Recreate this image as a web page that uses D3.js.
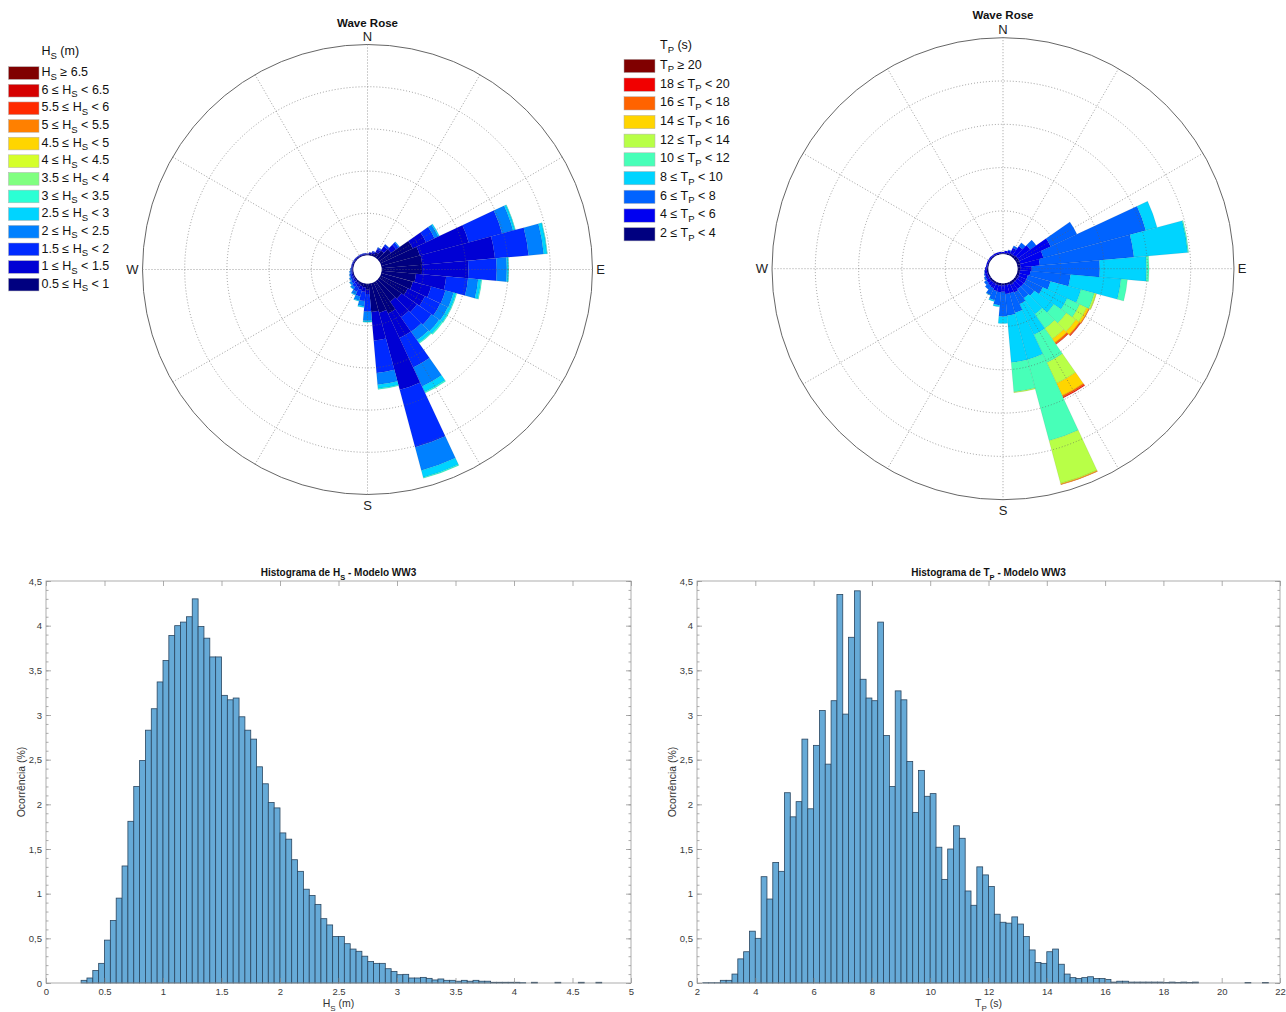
<!DOCTYPE html>
<html>
<head>
<meta charset="utf-8">
<script src="https://cdn.jsdelivr.net/npm/d3@7"></script>
<style>
body {margin: 0; background: #fff;}
svg {font-family: "Liberation Sans", Arial, sans-serif;}
</style>
</head>
<body>
<svg id="chart" width="1286" height="1012"></svg>
<script>
// ---- data ----
var directions = d3.range(0, 360, 10);          // sector centres (deg from N)
var hsBreaks = [0.5, 1, 1.5, 2, 2.5, 3, 3.5, 4, 4.5, 5, 5.5, 6, 6.5];
var tpBreaks = [2, 4, 6, 8, 10, 12, 14, 16, 18, 20];

// frequency per class (in ring units), one row per direction, lowest class first
var hsRoseFreq = [
  [0.03, 0.02], [0.04, 0.03, 0.01], [0.06, 0.04, 0.02], [0.12, 0.08, 0.04, 0.01],
  [0.22, 0.12, 0.05, 0.01], [0.35, 0.15, 0.07, 0.03],
  [0.85, 0.35, 0.22, 0.10, 0.03],
  [0.95, 1.20, 0.82, 0.27, 0.05, 0.01],
  [0.97, 1.73, 0.80, 0.36, 0.08, 0.01],
  [0.96, 1.10, 0.67, 0.24, 0.04, 0.01],
  [0.82, 0.72, 0.52, 0.24, 0.07, 0.02],
  [0.78, 0.45, 0.35, 0.20, 0.06, 0.02],
  [0.72, 0.45, 0.40, 0.20, 0.07, 0.02],
  [0.65, 0.45, 0.42, 0.22, 0.08, 0.03],
  [0.60, 0.45, 0.42, 0.24, 0.08, 0.02],
  [0.82, 0.64, 0.77, 0.50, 0.14, 0.03],
  [0.73, 1.89, 1.41, 0.57, 0.17, 0.02],
  [0.68, 0.68, 0.77, 0.28, 0.09, 0.02],
  [0.15, 0.10, 0.42, 0.21, 0.03, 0.01],
  [0.10, 0.10, 0.22, 0.12, 0.03],
  [0.08, 0.09, 0.16, 0.10, 0.02],
  [0.06, 0.07, 0.12, 0.08, 0.02],
  [0.05, 0.05, 0.08, 0.06, 0.01],
  [0.04, 0.04, 0.06, 0.05, 0.01],
  [0.03, 0.03, 0.05, 0.04], [0.03, 0.03, 0.04, 0.02], [0.03, 0.02, 0.03, 0.02],
  [0.03, 0.02, 0.02, 0.01],
  [0.03, 0.02, 0.01], [0.03, 0.02, 0.01], [0.03, 0.02, 0.01], [0.03, 0.02, 0.01],
  [0.03, 0.02, 0.01], [0.03, 0.02, 0.01], [0.03, 0.02, 0.01], [0.03, 0.02, 0.01]
];
var tpRoseFreq = [
  [0.02, 0.03], [0.03, 0.05], [0.04, 0.06, 0.02], [0.05, 0.15, 0.05],
  [0.06, 0.24, 0.10], [0.08, 0.35, 0.17],
  [0.08, 0.80, 0.67],
  [0.08, 0.55, 2.45, 0.27],
  [0.07, 0.45, 2.18, 1.25, 0.02],
  [0.06, 0.27, 1.57, 1.08, 0.06],
  [0.06, 0.24, 0.93, 1.17, 0.15],
  [0.06, 0.20, 0.54, 0.73, 0.32, 0.04, 0.01],
  [0.06, 0.20, 0.42, 0.62, 0.32, 0.18, 0.05, 0.02],
  [0.06, 0.19, 0.30, 0.55, 0.35, 0.27, 0.10, 0.03, 0.01],
  [0.06, 0.18, 0.26, 0.45, 0.40, 0.30, 0.10, 0.04, 0.01],
  [0.07, 0.20, 0.30, 0.78, 0.71, 0.53, 0.31, 0.04, 0.02],
  [0.05, 0.20, 0.47, 1.12, 1.94, 1.02, 0.02, 0.01],
  [0.05, 0.20, 0.50, 1.09, 0.68, 0.02],
  [0.05, 0.15, 0.57, 0.16],
  [0.06, 0.15, 0.30, 0.04],
  [0.06, 0.14, 0.22, 0.03],
  [0.05, 0.12, 0.17, 0.01],
  [0.05, 0.10, 0.10], [0.05, 0.08, 0.07], [0.04, 0.07, 0.04], [0.04, 0.06, 0.02],
  [0.04, 0.05, 0.01], [0.04, 0.04],
  [0.03, 0.03], [0.03, 0.03], [0.03, 0.03], [0.03, 0.03],
  [0.03, 0.03], [0.03, 0.03], [0.03, 0.03], [0.03, 0.03]
];

// histogram of Hs: bins of 0.05 m starting at 0.30 m (occurrence %)
var hsBinStart = 0.3, hsBinWidth = 0.05;
var hsHist = [
  0.03, 0.056, 0.14, 0.22, 0.48, 0.70, 0.95, 1.31, 1.81, 2.20,
  2.49, 2.83, 3.07, 3.37, 3.61, 3.89, 4.00, 4.04, 4.10, 4.30,
  3.99, 3.86, 3.65, 3.65, 3.22, 3.17, 3.19, 2.98, 2.83, 2.73,
  2.42, 2.23, 2.02, 1.96, 1.68, 1.61, 1.38, 1.25, 1.05, 0.98,
  0.88, 0.72, 0.65, 0.52, 0.52, 0.44, 0.38, 0.355, 0.30, 0.24,
  0.22, 0.22, 0.16, 0.13, 0.093, 0.097, 0.056, 0.056, 0.063, 0.052,
  0.034, 0.045, 0.03, 0.03, 0.02, 0.03, 0.02, 0.03, 0.02, 0.02,
  0.008, 0.008, 0.008, 0.008, 0.008, 0.004, 0, 0.008, 0, 0,
  0, 0.008, 0, 0, 0, 0.008, 0, 0, 0.008
];
// histogram of Tp: bins of 0.2 s starting at 2.2 s
var tpBinStart = 2.2, tpBinWidth = 0.2;
var tpHist = [
  0.003, 0.003, 0.003, 0.03, 0.03, 0.10, 0.27, 0.35, 0.58, 0.50,
  1.19, 0.94, 1.35, 1.25, 2.13, 1.86, 2.03, 2.73, 1.95, 2.66,
  3.05, 2.45, 3.16, 4.35, 3.01, 3.87, 4.39, 3.40, 3.19, 3.16,
  4.04, 2.77, 2.20, 3.27, 3.17, 2.48, 1.91, 2.38, 2.09, 2.12,
  1.52, 1.16, 1.50, 1.76, 1.62, 1.03, 0.87, 1.30, 1.21, 1.08,
  0.77, 0.68, 0.67, 0.74, 0.66, 0.52, 0.37, 0.23, 0.22, 0.35,
  0.38, 0.21, 0.10, 0.06, 0.05, 0.06, 0.07, 0.05, 0.05, 0.04,
  0.01, 0.02, 0.02, 0.01, 0.01, 0.01, 0.01, 0.01, 0.01, 0.005,
  0.01, 0.005, 0.01, 0.005, 0.01, 0, 0, 0, 0, 0,
  0, 0, 0, 0.005, 0, 0, 0.005
];
var hsXTicks = d3.range(0, 5.01, 0.5);
var tpXTicks = d3.range(2, 22.01, 2);
var yTicks = d3.range(0, 4.51, 0.5);
var yMinorTicks = d3.range(0, 4.51, 0.1);

var svg = d3.select("#chart");

// MATLAB jet colormap
function jet(t) {
    var c = function(v) {return Math.round(255 * Math.max(0, Math.min(1, v)));};
    return d3.rgb(c(Math.min(4*t - 1.5, -4*t + 4.5)),
                  c(Math.min(4*t - 0.5, -4*t + 3.5)),
                  c(Math.min(4*t + 0.5, -4*t + 2.5))).formatHex();
}

// text with subscripts: parts = [[text, isSub], ...]
function richText(sel, parts, subSize) {
    var down = false;
    parts.forEach(function(p) {
        var t = sel.append("tspan").text(p[0]);
        if (p[1] && !down) { t.attr("dy", 3.5).attr("font-size", subSize); down = true; }
        else if (p[1]) { t.attr("font-size", subSize); }
        else if (down) { t.attr("dy", -3.5); down = false; }
    });
    return sel;
}

function drawRose(cfg) {
    var g = svg.append("g").attr("transform", "translate(" + cfg.cx + "," + cfg.cy + ")");
    var rScale = d3.scaleLinear().domain([0, 5]).range([cfg.r0, cfg.R]);
    var n = cfg.nClasses;

    var cells = [];
    cfg.freq.forEach(function(row, i) {
        var cum = 0;
        row.forEach(function(v, k) {
            cells.push({dir: directions[i], lo: cum, hi: cum + v, k: k});
            cum += v;
        });
    });

    var arc = d3.arc()
        .innerRadius(function(d) {return rScale(d.lo);})
        .outerRadius(function(d) {return rScale(d.hi);})
        .startAngle(function(d) {return (d.dir - 5) * Math.PI / 180;})
        .endAngle(function(d) {return (d.dir + 5) * Math.PI / 180;});

    g.selectAll("path.cell")
        .data(cells)
        .enter()
        .append("path")
        .attr("class", "cell")
        .attr("d", arc)
        .attr("fill", function(d) {return jet(d.k / (n - 1));})
        .attr("stroke", "rgba(0,0,0,0.14)")
        .attr("stroke-width", 0.5);

    // grid over the sectors
    d3.range(0, 360, 30).forEach(function(a) {
        var rad = a * Math.PI / 180;
        g.append("line")
         .attr("x1", cfg.r0 * Math.sin(rad)).attr("y1", -cfg.r0 * Math.cos(rad))
         .attr("x2", cfg.R * Math.sin(rad)).attr("y2", -cfg.R * Math.cos(rad))
         .attr("stroke", "#5f5f5f").attr("stroke-width", 0.8)
         .attr("stroke-dasharray", "1,2").attr("opacity", 0.75);
    });
    [1, 2, 3, 4].forEach(function(k) {
        g.append("circle").attr("r", rScale(k))
         .attr("fill", "none").attr("stroke", "#5f5f5f").attr("stroke-width", 0.8)
         .attr("stroke-dasharray", "1,2").attr("opacity", 0.75);
    });
    g.append("circle").attr("r", cfg.R)
     .attr("fill", "none").attr("stroke", "#555").attr("stroke-width", 0.9);
    g.append("circle").attr("r", cfg.r0).attr("fill", "#fff");

    svg.append("text")
       .attr("x", cfg.cx).attr("y", cfg.titleY)
       .attr("text-anchor", "middle").attr("font-weight", "bold").attr("font-size", 11.5)
       .attr("fill", "#111")
       .text("Wave Rose");

    var lab = [["N", 0, -cfg.R - 8], ["S", 0, cfg.R + 11], ["W", -cfg.R - 10, 0], ["E", cfg.R + 8, 0]];
    lab.forEach(function(l) {
        g.append("text")
         .attr("x", l[1]).attr("y", l[2] + 4.5)
         .attr("text-anchor", "middle").attr("font-size", 13).attr("fill", "#222")
         .text(l[0]);
    });
}

function drawLegend(cfg) {
    var g = svg.append("g");
    richText(g.append("text").attr("x", cfg.tx).attr("y", cfg.titleY)
              .attr("font-size", 12.5).attr("fill", "#111"), cfg.title, 9.5);
    var n = cfg.breaks.length;
    d3.range(n).forEach(function(j) {
        var k = n - 1 - j;                  // highest class on top
        var top = cfg.y0 + j * cfg.pitch;
        g.append("rect")
         .attr("x", cfg.bx).attr("y", top).attr("width", cfg.bw).attr("height", cfg.bh)
         .attr("fill", jet(k / (n - 1)))
         .attr("stroke", "#b0b0b0").attr("stroke-width", 0.5);
        var parts = (k === n - 1)
            ? [[cfg.sym, false], [cfg.sub, true], [" \u2265 " + cfg.breaks[k], false]]
            : [[cfg.breaks[k] + " \u2264 " + cfg.sym, false], [cfg.sub, true], [" < " + cfg.breaks[k + 1], false]];
        richText(g.append("text").attr("x", cfg.tx).attr("y", top + 9.5)
                  .attr("font-size", 12.5).attr("fill", "#111"), parts, 9.5);
    });
}

function drawHist(cfg) {
    var g = svg.append("g");
    var x = d3.scaleLinear().domain(cfg.xDomain).range([cfg.x0, cfg.x1]);
    var y = d3.scaleLinear().domain([0, 4.5]).range([cfg.y0, cfg.y1]);

    var bins = cfg.values.map(function(v, i) {
        return {lo: cfg.start + i * cfg.width, v: v};
    }).filter(function(d) {return d.v > 0;});

    g.selectAll("rect.bar")
     .data(bins)
     .enter()
     .append("rect")
     .attr("class", "bar")
     .attr("x", function(d) {return x(d.lo);})
     .attr("width", function(d) {return x(d.lo + cfg.width) - x(d.lo);})
     .attr("y", function(d) {return y(d.v);})
     .attr("height", function(d) {return y(0) - y(d.v);})
     .attr("fill", "#66aad7")
     .attr("stroke", "#2a4660")
     .attr("stroke-width", 0.8);

    var fmtY = function(d) {return String(+d.toFixed(1)).replace(".", ",");};
    var fmtX = function(d) {return String(+d.toFixed(1));};

    var axes = [
        g.append("g").attr("transform", "translate(0," + cfg.y0 + ")")
         .call(d3.axisBottom(x).tickValues(cfg.xTicks).tickFormat(fmtX).tickSize(-5).tickPadding(5)),
        g.append("g").attr("transform", "translate(0," + cfg.y1 + ")")
         .call(d3.axisTop(x).tickValues(cfg.xTicks).tickFormat("").tickSize(-5)),
        g.append("g").attr("transform", "translate(" + cfg.x0 + ",0)")
         .call(d3.axisLeft(y).tickValues(yTicks).tickFormat(fmtY).tickSize(-5).tickPadding(4)),
        g.append("g").attr("transform", "translate(" + cfg.x1 + ",0)")
         .call(d3.axisRight(y).tickValues(yTicks).tickFormat("").tickSize(-5)),
        g.append("g").attr("transform", "translate(" + cfg.x0 + ",0)")
         .call(d3.axisLeft(y).tickValues(yMinorTicks).tickFormat("").tickSize(-2.5)),
        g.append("g").attr("transform", "translate(" + cfg.x1 + ",0)")
         .call(d3.axisRight(y).tickValues(yMinorTicks).tickFormat("").tickSize(-2.5))
    ];
    axes.forEach(function(a) {
        a.select(".domain").remove();
        a.selectAll("line").attr("stroke", "#8a8a8a").attr("stroke-width", 0.7);
        a.selectAll("text").attr("font-size", 9.5).attr("fill", "#3a3a3a")
         .attr("font-family", "Liberation Sans, Arial, sans-serif");
    });

    g.append("rect")
     .attr("x", cfg.x0).attr("y", cfg.y1)
     .attr("width", cfg.x1 - cfg.x0).attr("height", cfg.y0 - cfg.y1)
     .attr("fill", "none").attr("stroke", "#9a9a9a").attr("stroke-width", 0.8);

    var cx = (cfg.x0 + cfg.x1) / 2;
    richText(g.append("text").attr("x", cx).attr("y", cfg.y1 - 5)
              .attr("text-anchor", "middle").attr("font-weight", "bold")
              .attr("font-size", 10).attr("fill", "#111"), cfg.title, 7.5);
    richText(g.append("text").attr("x", cx).attr("y", cfg.y0 + 24)
              .attr("text-anchor", "middle").attr("font-size", 10.5).attr("fill", "#333"), cfg.xLabel, 8);
    g.append("text")
     .attr("transform", "translate(" + (cfg.x0 - 21) + "," + ((cfg.y0 + cfg.y1) / 2) + ") rotate(-90)")
     .attr("text-anchor", "middle").attr("font-size", 10.5).attr("fill", "#333")
     .text("Ocorrência (%)");
}

drawRose({cx: 367.5, cy: 269.5, R: 225, r0: 14, freq: hsRoseFreq, nClasses: hsBreaks.length, titleY: 27});
drawRose({cx: 1003, cy: 268.7, R: 231, r0: 14.5, freq: tpRoseFreq, nClasses: tpBreaks.length, titleY: 19});

drawLegend({breaks: hsBreaks, sym: "H", sub: "S", title: [["H", false], ["S", true], [" (m)", false]],
            tx: 41.5, titleY: 55, bx: 8.5, bw: 30.5, bh: 12.7, y0: 66.7, pitch: 17.63});
drawLegend({breaks: tpBreaks, sym: "T", sub: "P", title: [["T", false], ["P", true], [" (s)", false]],
            tx: 660, titleY: 49, bx: 624, bw: 31, bh: 13.3, y0: 59.3, pitch: 18.7});

drawHist({x0: 46, x1: 631, y0: 983, y1: 581, xDomain: [0, 5], xTicks: hsXTicks,
          values: hsHist, start: hsBinStart, width: hsBinWidth,
          title: [["Histograma de H", false], ["S", true], [" - Modelo WW3", false]],
          xLabel: [["H", false], ["S", true], [" (m)", false]]});
drawHist({x0: 697, x1: 1280, y0: 983, y1: 581, xDomain: [2, 22], xTicks: tpXTicks,
          values: tpHist, start: tpBinStart, width: tpBinWidth,
          title: [["Histograma de T", false], ["P", true], [" - Modelo WW3", false]],
          xLabel: [["T", false], ["P", true], [" (s)", false]]});
</script>
</body>
</html>
